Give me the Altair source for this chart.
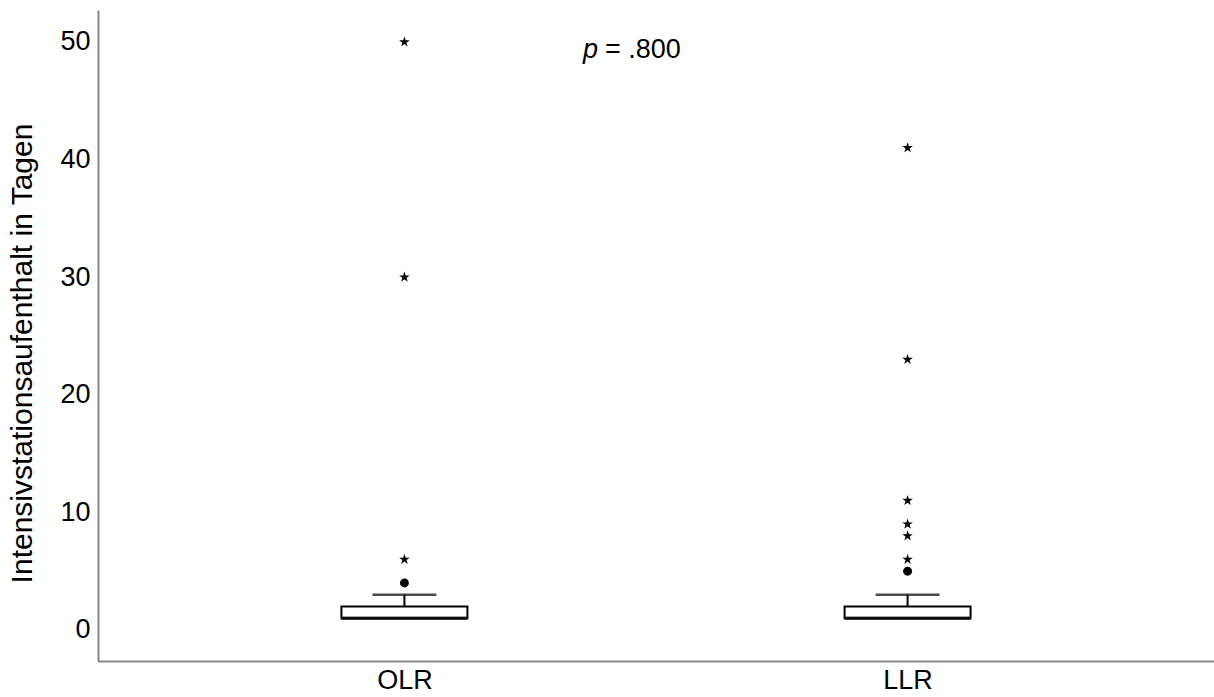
import altair as alt
import pandas as pd

groups = ["OLR", "LLR"]
q1 = [1, 1]
median = [1, 1]
q3 = [2, 2]
whisker_hi = [3, 3]

circle_group = ["OLR", "LLR"]
circle_value = [4, 5]

star_group = ["OLR", "OLR", "OLR", "LLR", "LLR", "LLR", "LLR", "LLR", "LLR"]
star_value = [6, 30, 50, 6, 8, 9, 11, 23, 41]

summary = pd.DataFrame({"group": groups, "q1": q1, "median": median, "q3": q3, "hi": whisker_hi})
circles = pd.DataFrame({"group": circle_group, "value": circle_value})
stars = pd.DataFrame({"group": star_group, "value": star_value})

FONT = "Liberation Sans"
ydom = [-2.64, 52.72]

xenc = alt.X("group:N", sort=groups, title=None,
             scale=alt.Scale(type="point", padding=0.609),
             axis=alt.Axis(labelAngle=0, ticks=False, labelFontSize=27, labelColor="black",
                           labelFont=FONT, domainColor="#888888", domainWidth=2, labelPadding=6))
yscale = alt.Scale(domain=ydom, nice=False, zero=False)
yaxis = alt.Axis(values=[0, 10, 20, 30, 40, 50], ticks=False, grid=False, labelFontSize=27,
                 labelColor="black", labelFont=FONT, domainColor="#888888", domainWidth=2,
                 labelPadding=8, title="Intensivstationsaufenthalt in Tagen", titleFont=FONT,
                 titleFontSize=30, titleFontWeight="normal", titleColor="black", titlePadding=22,
                 titleY=343)

base = alt.Chart(summary)

whisker = base.mark_rule(color="black", strokeWidth=2).encode(
    x=xenc, y=alt.Y("q3:Q", scale=yscale, axis=yaxis), y2="hi:Q")
cap = base.mark_tick(color="black", size=64, thickness=2.5).encode(
    x=xenc, y=alt.Y("hi:Q", scale=yscale))
box = base.mark_bar(fill="white", stroke="black", strokeWidth=2, size=126).encode(
    x=xenc, y=alt.Y("q1:Q", scale=yscale), y2="q3:Q")
med = base.mark_tick(color="black", size=126, thickness=3.5).encode(
    x=xenc, y=alt.Y("median:Q", scale=yscale))

circ = alt.Chart(circles).mark_point(filled=True, color="black", size=80, opacity=1).encode(
    x=xenc, y=alt.Y("value:Q", scale=yscale))

star_path = ("M0,-1L0.2245,-0.309L0.951,-0.309L0.363,0.118L0.588,0.809L0,0.382"
             "L-0.588,0.809L-0.363,0.118L-0.951,-0.309L-0.2245,-0.309Z")
star = alt.Chart(stars).mark_point(shape=star_path, filled=True, color="black", size=125, opacity=1).encode(
    x=xenc, y=alt.Y("value:Q", scale=yscale))

ann_df = pd.DataFrame({"v": [49.3]})
p_txt = alt.Chart(ann_df).mark_text(text="p", fontStyle="italic", font=FONT, fontSize=27,
                                    align="left", baseline="middle", color="black").encode(
    x=alt.value(485), y=alt.Y("v:Q", scale=yscale))
eq_txt = alt.Chart(ann_df).mark_text(text="= .800", font=FONT, fontSize=27,
                                     align="left", baseline="middle", color="black").encode(
    x=alt.value(507), y=alt.Y("v:Q", scale=yscale))

chart = alt.layer(whisker, cap, box, med, circ, star, p_txt, eq_txt).properties(
    width=1116, height=651,
    padding={"left": 98, "top": 10, "right": 0, "bottom": 36},
    autosize=alt.AutoSizeParams(type="none"),
    background="white",
).configure_view(stroke=None)

chart.save("out.html", embed_options={"renderer": "svg", "actions": False})
